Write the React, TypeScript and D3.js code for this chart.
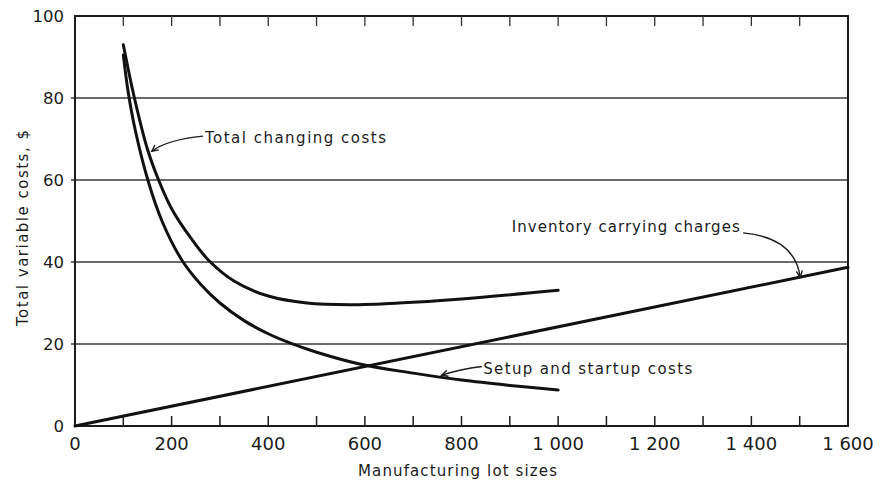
import React from "react";
import * as d3 from "d3";

const xTicks = [0, 200, 400, 600, 800, 1000, 1200, 1400, 1600];
const xTickLabels = ["0", "200", "400", "600", "800", "1 000", "1 200", "1 400", "1 600"];
const xMinorTicks = [100, 200, 300, 400, 500, 600, 700, 800, 900, 1000, 1100, 1200, 1300, 1400, 1500];
const yTicks = [0, 20, 40, 60, 80, 100];
const yTickLabels = ["0", "20", "40", "60", "80", "100"];
const gridValues = [20, 40, 60, 80];

const totalX = [100, 123, 150, 173, 200, 240, 276, 330, 400, 480, 570, 670, 800, 1000];
const totalY = [93, 80, 67.5, 60, 53, 45.8, 40.5, 35.3, 31.7, 30, 29.6, 30, 31, 33.1];

const setupX = [100, 110, 125, 152, 180, 221, 260, 300, 350, 400, 446, 500, 594, 700, 800, 900, 1000];
const setupY = [90.5, 81.5, 72, 59.5, 50, 40.5, 34.6, 30, 25.7, 22.5, 20.2, 18, 15, 12.9, 11.2, 9.9, 8.8];

const inventoryX = [0, 1600];
const inventoryY = [0, 38.7];

const labelTexts = ["Total changing costs", "Inventory carrying charges", "Setup and startup costs"];
const labelX = [269, 904, 845];
const labelY = [69, 47.4, 12.7];
const labelWidths = [181, 228, 209];
// leader: start, control, end in data units
const leaderStartX = [265, 1383, 842];
const leaderStartY = [70.7, 47.1, 14.5];
const leaderCtrlX = [190, 1490, 797];
const leaderCtrlY = [69.8, 45.9, 13.8];
const leaderEndX = [159, 1501, 759];
const leaderEndY = [67, 36.3, 12.4];

const FONT = "'DejaVu Sans', 'Liberation Sans', sans-serif";
const INK = "#1c1c1c";

export default function App() {
  const W = 880, H = 483;
  const x = d3.scaleLinear().domain([0, 1600]).range([75, 848]);
  const y = d3.scaleLinear().domain([0, 100]).range([426, 16]);

  const line = d3
    .line<[number, number]>()
    .x((d) => x(d[0]))
    .y((d) => y(d[1]))
    .curve(d3.curveCatmullRom.alpha(0.5));

  const zip = (a: number[], b: number[]) => a.map((v, i) => [v, b[i]] as [number, number]);

  const series = [zip(totalX, totalY), zip(setupX, setupY), zip(inventoryX, inventoryY)];

  const leaders = labelTexts.map((_, i) => {
    const sx = x(leaderStartX[i]), sy = y(leaderStartY[i]);
    const cx = x(leaderCtrlX[i]), cy = y(leaderCtrlY[i]);
    const ex = x(leaderEndX[i]), ey = y(leaderEndY[i]);
    const ang = Math.atan2(ey - cy, ex - cx);
    const L = 7, spread = 0.45;
    const a1x = ex - L * Math.cos(ang - spread), a1y = ey - L * Math.sin(ang - spread);
    const a2x = ex - L * Math.cos(ang + spread), a2y = ey - L * Math.sin(ang + spread);
    return {
      d: `M${sx},${sy} Q${cx},${cy} ${ex},${ey}`,
      head: `M${a1x},${a1y} L${ex},${ey} L${a2x},${a2y}`,
    };
  });

  return (
    <svg
      width={W}
      height={H}
      style={{ position: "absolute", left: 0, top: 0, background: "#fff" }}
      fontFamily={FONT}
    >
      <rect x={0} y={0} width={W} height={H} fill="#fff" />
      {gridValues.map((v) => (
        <line key={v} x1={71} x2={x(1600)} y1={y(v)} y2={y(v)} stroke="#3a3a3a" strokeWidth={1.4} />
      ))}
      <rect
        x={x(0)}
        y={y(100)}
        width={x(1600) - x(0)}
        height={y(0) - y(100)}
        fill="none"
        stroke={INK}
        strokeWidth={2}
      />
      {xMinorTicks.map((v) => (
        <g key={v}>
          <line x1={x(v)} x2={x(v)} y1={y(0)} y2={y(0) - 10} stroke={INK} strokeWidth={1.5} />
          <line x1={x(v)} x2={x(v)} y1={y(100)} y2={y(100) + 10} stroke="#333" strokeWidth={1.3} />
        </g>
      ))}
      {xTicks.map((v, i) => (
        <text key={v} x={x(v)} y={450} textAnchor="middle" fontSize={18} fill={INK}>
          {xTickLabels[i]}
        </text>
      ))}
      {yTicks.map((v, i) => (
        <text key={v} x={64} y={y(v) + 6} textAnchor="end" fontSize={16.5} fill={INK}>
          {yTickLabels[i]}
        </text>
      ))}
      <text x={358} y={476} fontSize={15} fill={INK} textLength={199} lengthAdjust="spacing">
        Manufacturing lot sizes
      </text>
      <text
        transform={`translate(28,326) rotate(-90)`}
        fontSize={15}
        fill={INK}
        textLength={196}
        lengthAdjust="spacing"
      >
        Total variable costs, $
      </text>
      {series.map((s, i) => (
        <path key={i} d={line(s) || ""} fill="none" stroke="#111" strokeWidth={3} strokeLinecap="round" />
      ))}
      {labelTexts.map((t, i) => (
        <g key={t}>
          <path d={leaders[i].d} fill="none" stroke={INK} strokeWidth={1.4} />
          <path d={leaders[i].head} fill="none" stroke={INK} strokeWidth={1.4} />
          <text
            x={x(labelX[i])}
            y={y(labelY[i])}
            fontSize={15}
            fill={INK}
            textLength={labelWidths[i]}
            lengthAdjust="spacing"
          >
            {t}
          </text>
        </g>
      ))}
    </svg>
  );
}
